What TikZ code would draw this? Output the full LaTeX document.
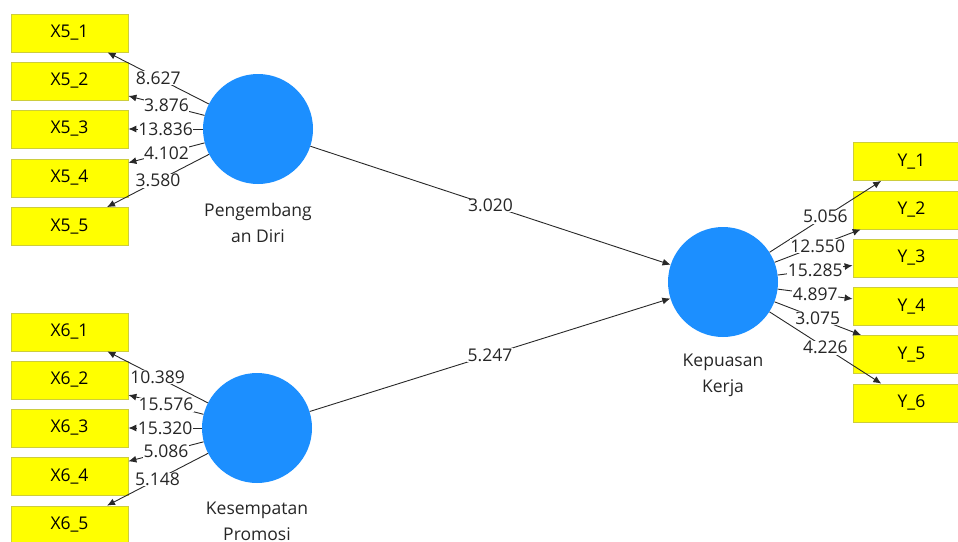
\documentclass[tikz,border=0pt]{standalone}
\usepackage{fontspec}
\setmainfont{Open Sans}
\usetikzlibrary{arrows.meta}
\definecolor{latent}{RGB}{28,143,255}
\definecolor{indfill}{RGB}{255,255,0}
\definecolor{inddraw}{RGB}{205,205,60}
\definecolor{linec}{RGB}{40,40,40}
\begin{document}
\begin{tikzpicture}[x=1pt,y=-1pt,
  every node/.style={font=\fontsize{17.5}{26}\selectfont},
  ind/.style={draw=inddraw,fill=indfill,line width=0.8pt,minimum width=117pt,minimum height=38pt,inner sep=0pt},
  lat/.style={circle,fill=latent,minimum size=110pt,inner sep=0pt},
  latlabel/.style={align=center,text=black!85},
  conn/.style={draw=linec,line width=0.9pt,-{Latex[length=8pt,width=7pt]}},
  val/.style={fill=white,inner sep=0.5pt,text=black!85}]
\clip (0,0) rectangle (958,541);
\useasboundingbox (0,0) rectangle (958,541);
% latent variables
\node[lat] (P) at (258,129) {};
\node[lat] (K) at (257,428) {};
\node[lat] (Q) at (723,282) {};
\node[latlabel] (Pl) at (258,223) {Pengembang\\an Diri};
\node[latlabel] (Kl) at (257,521) {Kesempatan\\Promosi};
\node[latlabel] (Ql) at (723,375) {Kepuasan\\Kerja};
% indicators
\node[ind] (a1) at (69.5,33) {X5\_1};
\node[ind] (a2) at (69.5,81) {X5\_2};
\node[ind] (a3) at (69.5,129) {X5\_3};
\node[ind] (a4) at (69.5,178) {X5\_4};
\node[ind] (a5) at (69.5,226.5) {X5\_5};
\node[ind] (b1) at (69.5,332) {X6\_1};
\node[ind] (b2) at (69.5,380) {X6\_2};
\node[ind] (b3) at (69.5,428) {X6\_3};
\node[ind] (b4) at (69.5,476.5) {X6\_4};
\node[ind] (b5) at (69.5,525) {X6\_5};
\node[ind] (y1) at (911.5,161.5) {Y\_1};
\node[ind] (y2) at (911.5,210) {Y\_2};
\node[ind] (y3) at (911.5,258) {Y\_3};
\node[ind] (y4) at (911.5,306.5) {Y\_4};
\node[ind] (y5) at (911.5,354.5) {Y\_5};
\node[ind] (y6) at (911.5,403) {Y\_6};
% outer loadings
\path[conn] (P) -- node[val] {8.627} (a1);
\path[conn] (P) -- node[val] {3.876} (a2);
\path[conn] (P) -- node[val] {13.836} (a3);
\path[conn] (P) -- node[val] {4.102} (a4);
\path[conn] (P) -- node[val] {3.580} (a5);
\path[conn] (K) -- node[val] {10.389} (b1);
\path[conn] (K) -- node[val] {15.576} (b2);
\path[conn] (K) -- node[val] {15.320} (b3);
\path[conn] (K) -- node[val] {5.086} (b4);
\path[conn] (K) -- node[val] {5.148} (b5);
\path[conn] (Q) -- node[val] {5.056} (y1);
\path[conn] (Q) -- node[val] {12.550} (y2);
\path[conn] (Q) -- node[val] {15.285} (y3);
\path[conn] (Q) -- node[val] {4.897} (y4);
\path[conn] (Q) -- node[val] {3.075} (y5);
\path[conn] (Q) -- node[val] {4.226} (y6);
% path coefficients
\path[conn] (P) -- node[val] {3.020} (Q);
\path[conn] (K) -- node[val] {5.247} (Q);
\end{tikzpicture}
\end{document}
